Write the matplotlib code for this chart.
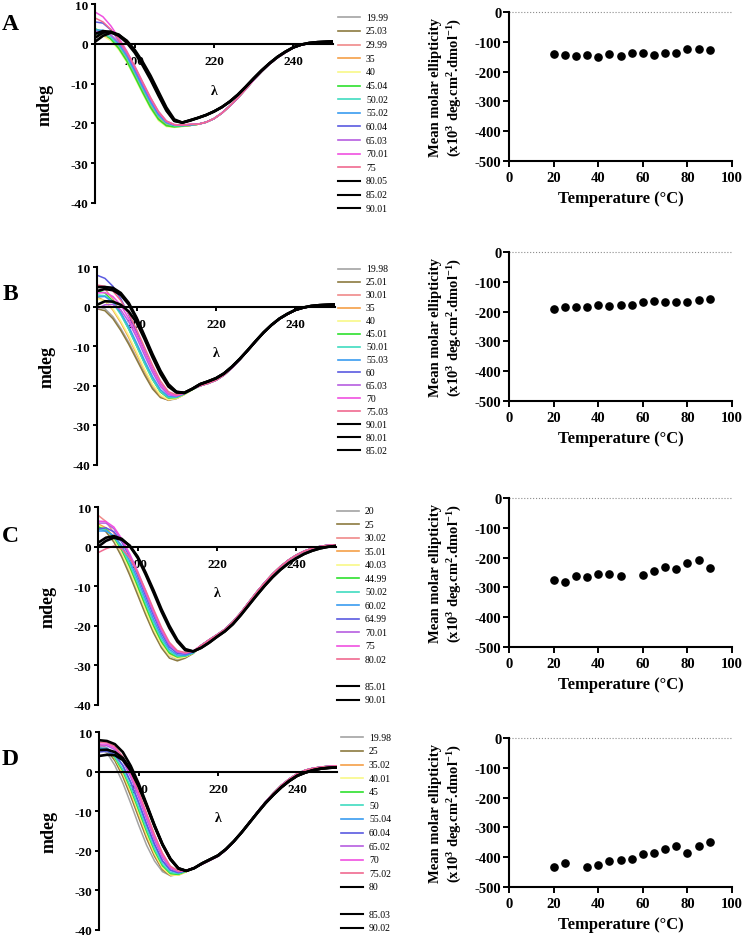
import matplotlib
matplotlib.use('Agg')
import matplotlib.pyplot as plt
from matplotlib.lines import Line2D
import numpy as np

plt.rcParams['font.family'] = 'Liberation Serif'
plt.rcParams['font.weight'] = 'bold'
plt.rcParams['axes.labelweight'] = 'bold'
plt.rcParams['axes.unicode_minus'] = False
plt.rcParams['mathtext.fontset'] = 'custom'
plt.rcParams['mathtext.rm'] = 'Liberation Serif:bold'
plt.rcParams['mathtext.bf'] = 'Liberation Serif:bold'
plt.rcParams['mathtext.default'] = 'rm'

W, H = 745, 937

# ---------------- data ----------------
# CD spectra sampled every 2 nm; head = 190..214 nm, tail = 216..250 nm
wl = np.arange(190, 252, 2)

GRAY, OLIVE, SALMON, ORANGE = '#a3a3a3', '#8c7a40', '#f08a8a', '#f5a048'
YELLOW, GREEN, TURQ, BLUE = '#f8f888', '#2ee02e', '#40dcc0', '#3a9cf0'
SLATE, ORCHID, MAGENTA, PINK, K = '#5a5ae0', '#b65ee0', '#f050e0', '#f06a90', 'k'

col_A = [GRAY, OLIVE, SALMON, ORANGE, YELLOW, GREEN, TURQ, BLUE, SLATE, ORCHID, MAGENTA, PINK, K, K, K]
col_B = col_A
col_C = [GRAY, OLIVE, SALMON, ORANGE, YELLOW, GREEN, TURQ, BLUE, SLATE, ORCHID, MAGENTA, PINK, K, K]
col_D = [GRAY, OLIVE, ORANGE, YELLOW, GREEN, TURQ, BLUE, SLATE, ORCHID, MAGENTA, PINK, K, K, K]

lab_A = ['19.99', '25.03', '29.99', '35', '40', '45.04', '50.02', '55.02', '60.04', '65.03',
         '70.01', '75', '80.05', '85.02', '90.01']
lab_B = ['19.98', '25.01', '30.01', '35', '40', '45.01', '50.01', '55.03', '60', '65.03',
         '70', '75.03', '90.01', '80.01', '85.02']
lab_C = ['20', '25', '30.02', '35.01', '40.03', '44.99', '50.02', '60.02', '64.99', '70.01',
         '75', '80.02', '85.01', '90.01']
lab_D = ['19.98', '25', '35.02', '40.01', '45', '50', '55.04', '60.04', '65.02', '70',
         '75.02', '80', '85.03', '90.02']

head_A = [
    [3.0, 2.6, 1.2, -1.0, -4.0, -7.8, -11.8, -15.5, -18.5, -20.2, -20.7, -20.6, -20.5],
    [2.5, 2.3, 1.0, -1.2, -4.2, -8.0, -12.0, -15.8, -18.8, -20.4, -20.8, -20.7, -20.5],
    [3.5, 3.0, 1.6, -0.6, -3.6, -7.4, -11.4, -15.2, -18.3, -20.1, -20.7, -20.6, -20.5],
    [2.8, 2.6, 1.4, -0.8, -3.8, -7.6, -11.6, -15.4, -18.5, -20.2, -20.7, -20.6, -20.5],
    [2.0, 2.0, 0.8, -1.5, -4.6, -8.5, -12.5, -16.3, -19.3, -20.8, -21.0, -20.8, -20.5],
    [3.8, 3.0, 1.2, -1.2, -4.3, -8.2, -12.2, -16.0, -19.0, -20.6, -20.9, -20.7, -20.5],
    [2.5, 2.6, 1.6, -0.4, -3.4, -7.2, -11.2, -15.0, -18.2, -20.0, -20.6, -20.6, -20.4],
    [3.5, 3.4, 2.2, 0.0, -3.0, -6.8, -10.8, -14.6, -17.8, -19.8, -20.5, -20.5, -20.3],
    [5.5, 5.2, 3.5, 0.8, -2.4, -6.2, -10.2, -14.0, -17.4, -19.6, -20.4, -20.5, -20.3],
    [3.0, 3.0, 2.2, 0.4, -2.4, -6.0, -10.0, -13.9, -17.3, -19.6, -20.4, -20.5, -20.3],
    [8.0, 6.8, 4.5, 1.5, -1.8, -5.6, -9.6, -13.6, -17.0, -19.4, -20.3, -20.4, -20.2],
    [6.5, 5.5, 3.6, 1.0, -2.0, -5.6, -9.6, -13.5, -17.0, -19.4, -20.3, -20.4, -20.2],
    [0.5, 2.0, 2.8, 2.2, 0.8, -1.5, -4.5, -8.0, -12.0, -16.0, -19.0, -19.8, -19.3],
    [1.5, 2.8, 3.0, 2.3, 0.6, -1.8, -5.0, -8.6, -12.6, -16.5, -19.3, -19.8, -19.2],
    [2.5, 3.2, 3.0, 2.0, 0.3, -2.2, -5.4, -9.0, -13.0, -16.8, -19.4, -19.8, -19.2],
]
tail_A_col = [-20.2, -19.7, -18.8, -17.4, -15.6, -13.6, -11.4, -9.1, -7.0, -5.1, -3.5, -2.2,
              -1.0, -0.3, 0.1, 0.4, 0.5, 0.6]
tail_A_blk = [-18.6, -17.9, -17.0, -15.9, -14.5, -12.8, -10.8, -8.7, -6.7, -4.9, -3.3, -2.0,
              -0.9, -0.2, 0.2, 0.4, 0.5, 0.6]

head_B = [
    [0.0, -0.5, -2.5, -5.5, -9.0, -13.0, -17.0, -20.5, -22.8, -23.7, -23.3, -22.2, -21.0],
    [-0.5, -1.0, -3.0, -6.0, -9.5, -13.4, -17.3, -20.8, -23.0, -23.6, -23.1, -22.0, -20.9],
    [5.5, 4.5, 2.0, -1.5, -5.5, -9.8, -14.2, -18.3, -21.5, -23.2, -23.2, -22.2, -21.0],
    [2.5, 1.5, -0.8, -4.0, -7.8, -12.0, -16.2, -19.9, -22.6, -23.6, -23.2, -22.2, -21.0],
    [2.0, 1.5, -0.5, -3.6, -7.3, -11.5, -15.8, -19.6, -22.4, -23.5, -23.2, -22.2, -21.0],
    [4.0, 3.5, 1.4, -1.8, -5.6, -9.9, -14.3, -18.4, -21.6, -23.1, -23.0, -22.1, -21.0],
    [3.0, 2.8, 1.0, -2.0, -5.7, -10.0, -14.4, -18.4, -21.5, -23.0, -22.9, -22.0, -20.9],
    [2.5, 2.6, 1.2, -1.5, -5.0, -9.2, -13.6, -17.7, -21.0, -22.7, -22.8, -22.0, -20.9],
    [8.0, 7.2, 5.2, 2.0, -2.0, -6.5, -11.2, -15.7, -19.5, -22.0, -22.5, -21.9, -20.8],
    [-0.5, 0.5, 0.6, -0.8, -3.8, -7.8, -12.3, -16.6, -20.2, -22.3, -22.6, -21.9, -20.8],
    [3.5, 3.6, 2.6, 0.4, -3.0, -7.0, -11.4, -15.8, -19.6, -22.0, -22.5, -21.9, -20.8],
    [5.5, 5.2, 4.0, 1.6, -1.8, -5.8, -10.3, -14.8, -18.8, -21.5, -22.3, -21.8, -20.8],
    [5.0, 5.0, 4.8, 3.5, 1.0, -2.8, -7.4, -12.0, -16.2, -19.6, -21.5, -21.8, -20.8],
    [4.0, 4.5, 4.2, 3.0, 0.6, -3.2, -7.8, -12.4, -16.6, -19.9, -21.6, -21.8, -20.8],
    [0.5, 1.4, 1.3, 0.5, -1.2, -4.0, -8.2, -12.8, -17.0, -20.2, -21.7, -21.8, -20.8],
]
tail_B_col = [-20.0, -19.4, -18.6, -17.3, -15.5, -13.4, -11.1, -8.8, -6.6, -4.7, -3.1, -1.9,
              -0.9, -0.3, 0.1, 0.3, 0.4, 0.5]
tail_B_blk = [-19.6, -18.9, -18.1, -16.9, -15.2, -13.2, -11.0, -8.7, -6.5, -4.6, -3.0, -1.8,
              -0.8, -0.2, 0.2, 0.4, 0.5, 0.6]

head_C = [
    [5.5, 4.5, 2.0, -1.8, -6.4, -11.4, -16.5, -21.2, -25.0, -27.6, -28.5, -28.0, -27.0],
    [5.0, 3.8, 1.2, -2.6, -7.2, -12.2, -17.2, -21.8, -25.6, -28.2, -28.9, -28.2, -27.0],
    [8.0, 6.4, 3.5, -0.4, -5.0, -10.0, -15.2, -20.0, -24.2, -27.0, -28.0, -27.7, -26.9],
    [5.8, 4.8, 2.4, -1.2, -5.6, -10.6, -15.8, -20.6, -24.6, -27.3, -28.2, -27.8, -26.9],
    [5.5, 4.4, 2.0, -1.6, -6.0, -11.0, -16.1, -20.9, -24.8, -27.5, -28.3, -27.9, -26.9],
    [5.0, 4.4, 2.4, -0.8, -5.0, -9.9, -15.0, -19.9, -24.0, -26.9, -27.9, -27.7, -26.9],
    [4.5, 4.2, 2.6, -0.4, -4.4, -9.2, -14.3, -19.2, -23.4, -26.5, -27.7, -27.6, -26.9],
    [4.0, 4.0, 2.8, 0.2, -3.6, -8.3, -13.4, -18.4, -22.7, -26.0, -27.4, -27.5, -26.8],
    [4.5, 4.8, 3.8, 1.2, -2.6, -7.3, -12.4, -17.4, -21.9, -25.4, -27.0, -27.2, -26.6],
    [6.0, 6.0, 4.6, 1.6, -2.3, -6.8, -11.8, -16.8, -21.4, -24.9, -26.7, -27.0, -26.5],
    [6.5, 6.4, 5.0, 2.0, -1.8, -6.2, -11.2, -16.2, -20.8, -24.5, -26.5, -26.9, -26.4],
    [-1.5, -0.5, 0.2, -0.5, -2.8, -6.5, -11.0, -15.8, -20.4, -24.2, -26.3, -26.8, -26.4],
    [0.0, 1.5, 2.3, 1.8, 0.3, -2.5, -6.5, -11.0, -15.8, -20.0, -23.6, -25.9, -26.5],
    [1.0, 2.3, 2.7, 2.0, 0.2, -2.8, -7.0, -11.6, -16.4, -20.6, -24.0, -26.2, -26.5],
]
tail_C_col = [-25.0, -23.6, -22.3, -20.9, -19.0, -16.7, -14.1, -11.5, -9.1, -6.9, -5.0, -3.4,
              -2.1, -1.1, -0.4, 0.1, 0.4, 0.5]
tail_C_blk = [-25.6, -24.3, -22.8, -21.4, -19.6, -17.3, -14.8, -12.3, -9.9, -7.7, -5.8, -4.2,
              -2.9, -1.8, -1.0, -0.4, 0.0, 0.2]

head_D = [
    [6.0, 4.8, 1.6, -2.8, -8.0, -13.5, -18.6, -22.6, -25.3, -26.3, -26.0, -25.2, -24.3],
    [6.5, 5.5, 2.8, -1.2, -6.2, -11.6, -16.9, -21.4, -24.8, -26.3, -26.1, -25.2, -24.3],
    [7.0, 6.0, 3.4, -0.5, -5.4, -10.8, -16.2, -20.9, -24.5, -26.2, -26.2, -25.3, -24.3],
    [6.5, 5.8, 3.5, -0.2, -5.0, -10.4, -15.8, -20.6, -24.3, -26.1, -26.2, -25.3, -24.3],
    [6.0, 5.6, 3.6, 0.2, -4.4, -9.7, -15.1, -20.0, -23.8, -25.8, -26.0, -25.2, -24.3],
    [5.5, 5.4, 3.8, 0.6, -3.9, -9.1, -14.5, -19.5, -23.4, -25.5, -25.8, -25.1, -24.3],
    [6.0, 6.0, 4.6, 1.6, -2.8, -8.0, -13.5, -18.6, -22.7, -25.0, -25.6, -25.1, -24.3],
    [5.0, 5.2, 4.3, 1.6, -2.6, -7.7, -13.2, -18.3, -22.5, -24.9, -25.5, -25.1, -24.3],
    [6.5, 6.6, 5.6, 2.8, -1.4, -6.5, -12.0, -17.3, -21.7, -24.5, -25.3, -25.0, -24.3],
    [7.0, 7.0, 6.0, 3.4, -0.8, -5.8, -11.3, -16.7, -21.2, -24.2, -25.2, -25.0, -24.3],
    [7.5, 7.4, 6.4, 3.8, -0.2, -5.0, -10.5, -15.9, -20.6, -23.9, -25.1, -25.0, -24.3],
    [8.0, 7.8, 7.0, 5.0, 1.5, -3.0, -8.2, -13.5, -18.3, -22.0, -24.4, -25.1, -24.4],
    [5.5, 5.6, 5.0, 3.5, 0.6, -3.5, -8.5, -13.7, -18.4, -22.1, -24.5, -25.1, -24.4],
    [4.0, 4.3, 4.2, 3.0, 0.3, -3.7, -8.6, -13.8, -18.5, -22.2, -24.5, -25.1, -24.4],
]
tail_D_col = [-23.4, -22.4, -21.4, -19.8, -17.7, -15.3, -12.7, -10.1, -7.6, -5.4, -3.4, -1.8,
              -0.5, 0.4, 0.9, 1.2, 1.4, 1.5]
tail_D_blk = [-23.2, -22.2, -21.2, -19.6, -17.6, -15.3, -12.8, -10.3, -7.9, -5.8, -3.9, -2.3,
              -1.0, -0.2, 0.4, 0.8, 1.0, 1.1]

# mean molar ellipticity vs temperature
temp_A = [20, 25, 30, 35, 40, 45, 50, 55, 60, 65, 70, 75, 80, 85, 90]
mre_A = [-142, -144, -146, -144, -152, -142, -146, -136, -137, -143, -136, -138, -124, -124, -126]
temp_B = [20, 25, 30, 35, 40, 45, 50, 55, 60, 65, 70, 75, 80, 85, 90]
mre_B = [-191, -185, -185, -185, -177, -180, -177, -178, -169, -163, -169, -166, -166, -162, -157]
temp_C = [20, 25, 30, 35, 40, 45, 50, 60, 65, 70, 75, 80, 85, 90]
mre_C = [-275, -281, -261, -264, -255, -254, -263, -258, -245, -230, -238, -218, -209, -233]
temp_D = [20, 25, 35, 40, 45, 50, 55, 60, 65, 70, 75, 80, 85, 90]
mre_D = [-433, -419, -435, -427, -412, -411, -408, -390, -387, -372, -362, -387, -364, -348]


def box(x0, ytop, w, h):
    return [x0 / W, 1 - (ytop + h) / H, w / W, h / H]


def bold_ticks(ax):
    for lab in ax.get_xticklabels() + ax.get_yticklabels():
        lab.set_fontweight('bold')


def plot_cd(ax, heads, colors, tail_col, tail_blk):
    for head, c in zip(heads, colors):
        tail = tail_blk if c == K else tail_col
        ax.plot(wl, head + tail, color=c, lw=1.9 if c == K else 1.1)
    ax.set_xlim(190, 250)
    ax.set_ylim(-40, 10)
    ax.spines['top'].set_visible(False)
    ax.spines['right'].set_visible(False)
    ax.spines['bottom'].set_position(('data', 0))
    for s in ['left', 'bottom']:
        ax.spines[s].set_linewidth(1.5)
    ax.set_xticks([200, 220, 240])
    ax.set_yticks([10, 0, -10, -20, -30, -40])
    ax.tick_params(direction='out', length=3.2, width=1.4, labelsize=9.5)
    ax.tick_params(axis='x', pad=5)
    ax.tick_params(axis='y', pad=2)
    bold_ticks(ax)
    ax.set_xlabel('λ', fontsize=10, fontweight='bold')
    ax.xaxis.set_label_coords(0.5, 0.6)
    ax.set_ylabel('mdeg', fontsize=13, fontweight='bold')
    ax.yaxis.set_label_coords(-0.175, 0.5)


def plot_mre(ax, t, m):
    ax.plot(t, m, 'o', color='k', ms=5.2)
    ax.axhline(0, color='0.55', ls=':', lw=0.8, clip_on=False)
    ax.set_xlim(0, 100)
    ax.set_ylim(-500, 0)
    ax.spines['top'].set_visible(False)
    ax.spines['right'].set_visible(False)
    for s in ['left', 'bottom']:
        ax.spines[s].set_linewidth(1.5)
    ax.set_xticks(range(0, 101, 20))
    ax.set_yticks(range(-500, 1, 100))
    ax.tick_params(direction='out', length=4, width=1.4, labelsize=10.5)
    ax.tick_params(axis='y', pad=1.5)
    bold_ticks(ax)
    ax.set_xlabel('Temperature (°C)', fontsize=12, fontweight='bold')
    ax.xaxis.set_label_coords(0.5, -0.2)
    ax.set_ylabel('Mean molar ellipticity\n(x10$^{3}$ deg.cm$^{2}$.dmol$^{-1}$)',
                  fontsize=10.5, fontweight='bold', linespacing=1.3)
    ax.yaxis.set_label_coords(-0.2, 0.5)


def draw_key(fig, labels, colors, x0, x1, y0, step, gap=None):
    row = 0
    for lab, c in zip(labels, colors):
        if gap is not None and row == gap:
            row += 1
        y = 1 - (y0 + row * step) / H
        fig.add_artist(Line2D([x0 / W, x1 / W], [y, y], color=c,
                              lw=1.5 if c == K else 1.2, transform=fig.transFigure))
        fig.text((x1 + 6) / W, y, lab, fontsize=7, fontweight='normal', va='center')
        row += 1


fig = plt.figure(figsize=(W / 100, H / 100), dpi=100)

panels = [
    ('A', head_A, col_A, lab_A, tail_A_col, tail_A_blk, temp_A, mre_A,
     95, 5, 199, 13.3, 338, 18.3, 13.64, None, 25),
    ('B', head_B, col_B, lab_B, tail_B_col, tail_B_blk, temp_B, mre_B,
     97, 268.3, 197.4, 253.3, 338, 270, 12.93, None, 295),
    ('C', head_C, col_C, lab_C, tail_C_col, tail_C_blk, temp_C, mre_C,
     98, 508.3, 197.4, 499.3, 337, 511.7, 13.5, 12, 537),
    ('D', head_D, col_D, lab_D, tail_D_col, tail_D_blk, temp_D, mre_D,
     99, 733.3, 197.4, 739.3, 341, 738.3, 13.6, 12, 760),
]

for (tag, heads, cols, labs, tc, tb, t, m,
     lx, ltop, lh, rtop, kx, ky, kstep, kgap, tagy) in panels:
    ax_l = fig.add_axes(box(lx, ltop, 238, lh))
    plot_cd(ax_l, heads, cols, tc, tb)
    ax_r = fig.add_axes(box(509, rtop, 223, 148.5))
    plot_mre(ax_r, t, m)
    draw_key(fig, labs, cols, kx, kx + 22, ky, kstep, kgap)
    fig.text(10 / W, 1 - tagy / H, tag, fontsize=17, fontweight='bold',
             ha='center', va='center')

fig.savefig('out.png', dpi=100)
